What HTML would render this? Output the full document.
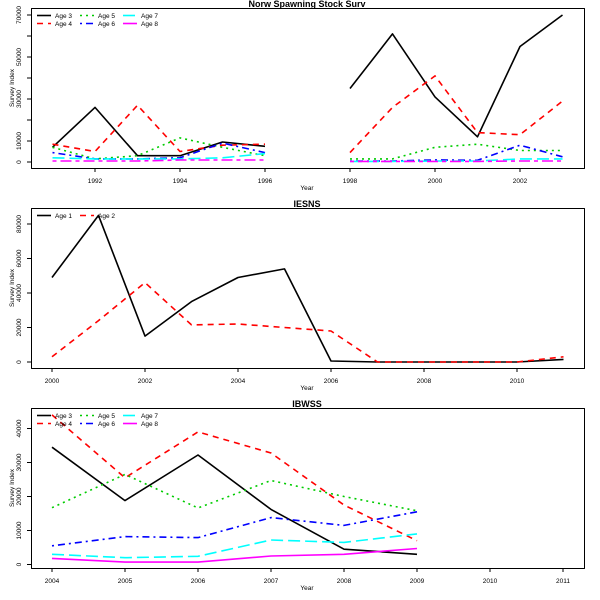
<!DOCTYPE html>
<html><head><style>body{margin:0;background:#fff}svg{display:block;font-family:"Liberation Sans",sans-serif}</style></head><body>
<svg width="600" height="600" viewBox="0 0 600 600" xmlns="http://www.w3.org/2000/svg">
<g fill="none" stroke-width="1.6" stroke-linejoin="round">
<!-- Panel 1 -->
<rect x="31.5" y="8.5" width="553" height="160" stroke="#000" stroke-width="1"/>
<g stroke="#000" stroke-width="1">
<path d="M95 168v4M180 168v4M265 168v4M350 168v4M435 168v4M520 168v4"/>
<path d="M31 162h-4M31 141h-4M31 120h-4M31 99h-4M31 78h-4M31 57h-4M31 36h-4M31 15h-4"/>
</g>
<polyline stroke="#000" points="52.5,147.3 95,107.4 137.5,155.7 180,155.7 222.5,142 265,146.3"/>
<polyline stroke="#000" points="350,88.5 392.5,33.9 435,96.9 477.5,136.8 520,46.5 562.5,15"/>
<polyline stroke="#f00" stroke-dasharray="6 5" points="52.5,144.2 95,151.5 137.5,105.3 180,151.5 222.5,145.2 265,144.2"/>
<polyline stroke="#f00" stroke-dasharray="6 5" points="350,152.6 392.5,107.4 435,75.9 477.5,132.6 520,134.7 562.5,101.1"/>
<polyline stroke="#0c0" stroke-dasharray="2 4" points="52.5,147.3 95,158.9 137.5,155.7 180,137.9 222.5,147.3 265,155.7"/>
<polyline stroke="#0c0" stroke-dasharray="2 4" points="350,158.9 392.5,158.9 435,147.3 477.5,144.2 520,150.5 562.5,150.5"/>
<polyline stroke="#00f" stroke-dasharray="2 4 7 4" points="52.5,152.6 95,158.9 137.5,158.9 180,157.8 222.5,143.1 265,152.6"/>
<polyline stroke="#00f" stroke-dasharray="2 4 7 4" points="350,161 392.5,161 435,159.9 477.5,160.3 520,145.2 562.5,156.8"/>
<polyline stroke="#0ff" stroke-dasharray="12 5" points="52.5,157.8 95,158.9 137.5,158.9 180,158.9 222.5,157.8 265,153.6"/>
<polyline stroke="#0ff" stroke-dasharray="12 5" points="350,161.4 392.5,161.4 435,161 477.5,161 520,158.9 562.5,158.9"/>
<polyline stroke="#f0f" stroke-dasharray="4 4 11 4" points="52.5,161 95,161 137.5,161 180,160 222.5,160 265,160"/>
<polyline stroke="#f0f" stroke-dasharray="4 4 11 4" points="350,161.4 392.5,161.4 435,161.4 477.5,161.4 520,161 562.5,161"/>
<!-- legend 1 -->
<path stroke="#000" d="M37 15.5h14"/><path stroke="#f00" stroke-dasharray="6 5" d="M37 23.5h14"/>
<path stroke="#0c0" stroke-dasharray="2 4" d="M80 15.5h14"/><path stroke="#00f" stroke-dasharray="2 4 7 4" d="M80 23.5h14"/>
<path stroke="#0ff" stroke-dasharray="12 5" d="M123 15.5h14"/><path stroke="#f0f" d="M123 23.5h14"/>

<!-- Panel 2 -->
<rect x="31.5" y="208.5" width="553" height="160" stroke="#000" stroke-width="1"/>
<g stroke="#000" stroke-width="1">
<path d="M52 368v4M145 368v4M238 368v4M331 368v4M424 368v4M517 368v4"/>
<path d="M31 362h-4M31 327.5h-4M31 293h-4M31 258.5h-4M31 224h-4"/>
</g>
<polyline stroke="#000" points="52,277.5 98.5,215.4 145,336.1 191.5,301.6 238,277.5 284.5,268.9 331,361 377.5,362 424,362 470.5,362 517,362 563.5,359.4"/>
<polyline stroke="#f00" stroke-dasharray="6 5" points="52,356.8 98.5,320.6 145,282.6 191.5,324.9 238,324 284.5,327.5 331,331 377.5,362 424,362 470.5,362 517,362 563.5,356.8"/>
<path stroke="#000" d="M37 215.5h14"/><path stroke="#f00" stroke-dasharray="6 5" d="M80 215.5h14"/>

<!-- Panel 3 -->
<rect x="31.5" y="408.5" width="553" height="160" stroke="#000" stroke-width="1"/>
<g stroke="#000" stroke-width="1">
<path d="M52 568v4M125 568v4M198 568v4M271 568v4M344 568v4M417 568v4M490 568v4M563 568v4"/>
<path d="M31 564.5h-4M31 530.5h-4M31 496.5h-4M31 462.5h-4M31 428.5h-4"/>
</g>
<polyline stroke="#000" points="52,447.2 125,500.6 198,455 271,509.4 344,549.2 417,554.3"/>
<polyline stroke="#f00" stroke-dasharray="6 5" points="52,414.9 125,477.8 198,431.9 271,453 344,505 417,540.7"/>
<polyline stroke="#0c0" stroke-dasharray="2 4" points="52,507.7 125,474.4 198,508 271,480.5 344,496.5 417,510.8"/>
<polyline stroke="#00f" stroke-dasharray="2 4 7 4" points="52,545.8 125,536.6 198,537.6 271,517.6 344,525.4 417,511.8"/>
<polyline stroke="#0ff" stroke-dasharray="12 5" points="52,554.3 125,557.7 198,556.3 271,540 344,542.4 417,533.9"/>
<polyline stroke="#f0f" points="52,558.4 125,562.1 198,562.1 271,556 344,554.3 417,548.5"/>
<path stroke="#000" d="M37 415.5h14"/><path stroke="#f00" stroke-dasharray="6 5" d="M37 423.5h14"/>
<path stroke="#0c0" stroke-dasharray="2 4" d="M80 415.5h14"/><path stroke="#00f" stroke-dasharray="2 4 7 4" d="M80 423.5h14"/>
<path stroke="#0ff" stroke-dasharray="12 5" d="M123 415.5h14"/><path stroke="#f0f" d="M123 423.5h14"/>
</g>

<g font-size="6.5" fill="#000">
<text x="55" y="18">Age 3</text><text x="55" y="26">Age 4</text>
<text x="98" y="18">Age 5</text><text x="98" y="26">Age 6</text>
<text x="141" y="18">Age 7</text><text x="141" y="26">Age 8</text>
<text x="55" y="218">Age 1</text><text x="98" y="218">Age 2</text>
<text x="55" y="418">Age 3</text><text x="55" y="426">Age 4</text>
<text x="98" y="418">Age 5</text><text x="98" y="426">Age 6</text>
<text x="141" y="418">Age 7</text><text x="141" y="426">Age 8</text>
</g>
<g font-size="6.5" fill="#000" text-anchor="middle">
<text x="95" y="183">1992</text><text x="180" y="183">1994</text><text x="265" y="183">1996</text><text x="350" y="183">1998</text><text x="435" y="183">2000</text><text x="520" y="183">2002</text>
<text x="307" y="190">Year</text>
<text x="52" y="383">2000</text><text x="145" y="383">2002</text><text x="238" y="383">2004</text><text x="331" y="383">2006</text><text x="424" y="383">2008</text><text x="517" y="383">2010</text>
<text x="307" y="390">Year</text>
<text x="52" y="583">2004</text><text x="125" y="583">2005</text><text x="198" y="583">2006</text><text x="271" y="583">2007</text><text x="344" y="583">2008</text><text x="417" y="583">2009</text><text x="490" y="583">2010</text><text x="563" y="583">2011</text>
<text x="307" y="590">Year</text>
<g transform="rotate(-90)">
<text x="-162" y="21">0</text>
<text x="-141" y="21">10000</text><text x="-99" y="21">30000</text><text x="-57" y="21">50000</text><text x="-15" y="21">70000</text>
<text x="-88" y="14">Survey Index</text>
<text x="-362" y="21">0</text><text x="-327.5" y="21">20000</text><text x="-293" y="21">40000</text><text x="-258.5" y="21">60000</text><text x="-224" y="21">80000</text>
<text x="-288" y="14">Survey Index</text>
<text x="-564.5" y="21">0</text><text x="-530.5" y="21">10000</text><text x="-496.5" y="21">20000</text><text x="-462.5" y="21">30000</text><text x="-428.5" y="21">40000</text>
<text x="-488" y="14">Survey Index</text>
</g>
</g>
<g font-size="9" font-weight="bold" text-anchor="middle">
<text x="307" y="7">Norw Spawning Stock Surv</text>
<text x="307" y="207">IESNS</text>
<text x="307" y="407">IBWSS</text>
</g>
</svg>
</body></html>
